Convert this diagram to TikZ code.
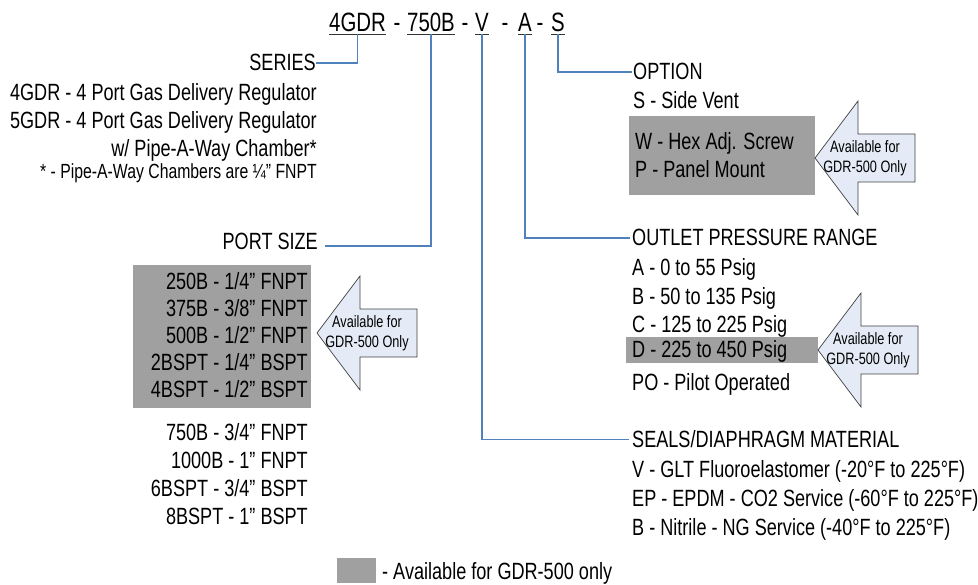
\documentclass[tikz,border=0pt]{standalone}
\usepackage{fontspec}
\setmainfont[FakeStretch=0.77]{Liberation Sans}
\definecolor{linkblue}{HTML}{4F81BD}
\definecolor{boxgray}{HTML}{A0A0A0}
\definecolor{arrowfill}{HTML}{E4EBF6}
\definecolor{arrowedge}{HTML}{404040}
\newcommand{\myavail}[5]{% name, tipx, tipy, H, h
  \draw[avail] (#2,#3) -- (#2+43,#3-#4) -- (#2+43,#3-#5) -- (#2+100,#3-#5)
     -- (#2+100,#3+#5) -- (#2+43,#3+#5) -- (#2+43,#3+#4) -- cycle;
  \node[atext] (#1) at (#2+50,#3) {Available for\\GDR-500 Only};
}
\begin{document}
\begin{tikzpicture}[x=1pt,y=-1pt,
  txt/.style={inner sep=0pt, font=\fontsize{23.5}{28}\selectfont},
  lt/.style={txt, anchor=base west},
  rt/.style={txt, anchor=base east},
  code/.style={inner sep=0pt, anchor=base west, font=\fontsize{26.5}{30}\selectfont},
  dashc/.style={inner sep=0pt, anchor=base, font=\fontsize{26.5}{30}\selectfont},
  uline/.style={draw=black!80, line width=1pt},
  conn/.style={draw=linkblue, line width=1.4pt},
  graybox/.style={fill=boxgray, draw=none},
  avail/.style={fill=arrowfill, draw=arrowedge, line width=0.7pt},
  atext/.style={inner sep=0pt, font=\fontsize{16.5}{20.5}\selectfont, align=center},
  foot/.style={inner sep=0pt, anchor=base east, font=\fontsize{20.5}{24}\selectfont}
]
\useasboundingbox (0,0) rectangle (978,585);

% gray boxes
\fill[graybox] (133,265) rectangle (311,408);
\fill[graybox] (629,116) rectangle (815,195);
\fill[graybox] (626,337) rectangle (818,363);
\fill[graybox] (337,558) rectangle (376,583);

% top code
\node[code] (c1) at (329,32) {4GDR};
\node[dashc] (d1) at (397,32) {-};
\node[code] (c2) at (407,32) {750B};
\node[dashc] (d2) at (465,32) {-};
\node[code] (c3) at (475,32) {V};
\node[dashc] (d3) at (505,32) {-};
\node[code] (c4) at (518,32) {A};
\node[dashc] (d4) at (540,32) {-};
\node[code] (c5) at (551,32) {S};
\foreach \n in {c1,c2,c3,c4,c5}
  \draw[uline] ([yshift=-2.5pt]\n.base west) -- ([yshift=-2.5pt]\n.base east);

% left column
\node[rt] (series) at (316,71) {SERIES};
\node[rt] (s1) at (317,101) {4GDR - 4 Port Gas Delivery Regulator};
\node[rt] (s2) at (317,129) {5GDR - 4 Port Gas Delivery Regulator};
\node[rt] (s3) at (317,157) {w/ Pipe-A-Way Chamber*};
\node[foot] (s4) at (317,179) {* - Pipe-A-Way Chambers are ¼” FNPT};

\node[rt] (port) at (318,250) {PORT SIZE};
\node[rt] (p1) at (308,290) {250B - 1/4" FNPT};
\node[rt] (p2) at (308,317) {375B - 3/8" FNPT};
\node[rt] (p3) at (308,344) {500B - 1/2" FNPT};
\node[rt] (p4) at (308,371) {2BSPT - 1/4" BSPT};
\node[rt] (p5) at (308,398) {4BSPT - 1/2" BSPT};
\node[rt] (p6) at (308,440) {750B - 3/4" FNPT};
\node[rt] (p7) at (308,468) {1000B - 1" FNPT};
\node[rt] (p8) at (308,496) {6BSPT - 3/4" BSPT};
\node[rt] (p9) at (308,524) {8BSPT - 1" BSPT};

% right column
\node[lt] (option) at (633,80) {OPTION};
\node[lt] (o1) at (633,109) {S - Side Vent};
\node[lt] (o2) at (635,150) {W - Hex Adj. Screw};
\node[lt] (o3) at (635,178) {P - Panel Mount};

\node[lt] (outlet) at (632,246) {OUTLET PRESSURE RANGE};
\node[lt] (r1) at (632,276) {A - 0 to 55 Psig};
\node[lt] (r2) at (632,305) {B - 50 to 135 Psig};
\node[lt] (r3) at (632,333) {C - 125 to 225 Psig};
\node[lt] (r4) at (632,358) {D - 225 to 450 Psig};
\node[lt] (r5) at (632,391) {PO - Pilot Operated};

\node[lt] (seals) at (632,448) {SEALS/DIAPHRAGM MATERIAL};
\node[lt] (m1) at (632,478) {V - GLT Fluoroelastomer (-20°F to 225°F)};
\node[lt] (m2) at (632,506) {EP - EPDM - CO2 Service (-60°F to 225°F)};
\node[lt] (m3) at (632,535) {B - Nitrile - NG Service (-40°F to 225°F)};

% legend
\node[lt] (legend) at (382,579) {- Available for GDR-500 only};

% connectors
\draw[conn] ([yshift=-2.5pt]c1.base) |- (series.east);
\draw[conn] ([yshift=-2.5pt]c2.base) |- ([xshift=7pt,yshift=-4pt]port.east);
\draw[conn] ([yshift=-2.5pt]c3.base) |- ([xshift=-3pt]seals.west);
\draw[conn] ([yshift=-2.5pt]c4.base) |- ([xshift=-2pt]outlet.west);
\draw[conn] ([yshift=-2.5pt]c5.base) |- ([xshift=-1pt]option.west);

% availability arrows
\myavail{a1}{317}{333}{57}{24}
\myavail{a2}{815}{158}{57}{24}
\myavail{a3}{818}{350}{57}{24}
\end{tikzpicture}
\end{document}
